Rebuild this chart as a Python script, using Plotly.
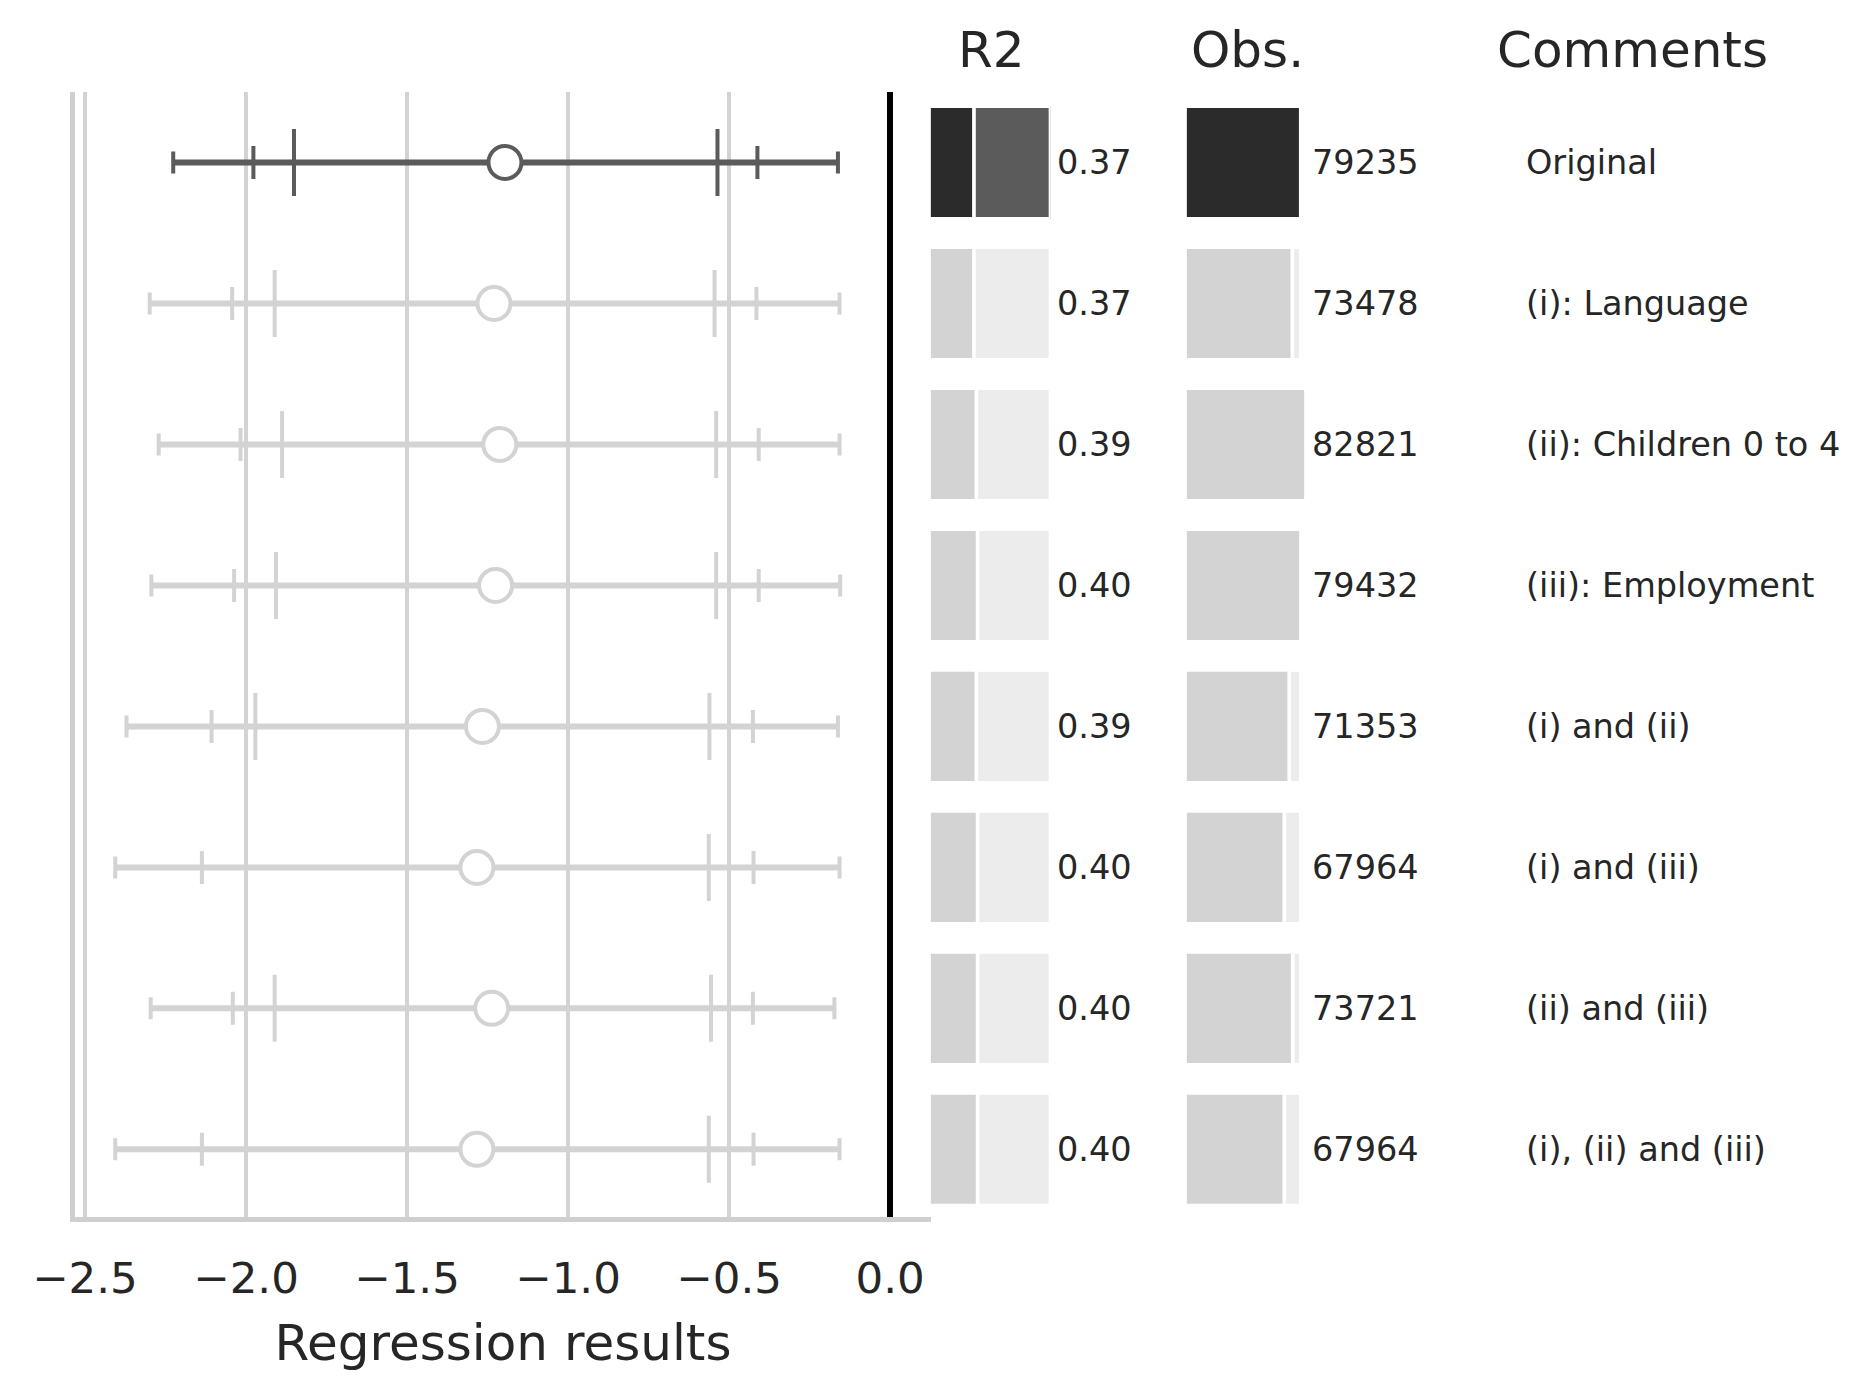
import plotly.graph_objects as go

# regression table: one row per specification
comments = ["Original", "(i): Language", "(ii): Children 0 to 4", "(iii): Employment",
            "(i) and (ii)", "(i) and (iii)", "(ii) and (iii)", "(i), (ii) and (iii)"]
coef = [-1.196, -1.230, -1.212, -1.225, -1.266, -1.283, -1.237, -1.283]
lo99 = [-2.226, -2.299, -2.271, -2.294, -2.371, -2.406, -2.296, -2.406]
hi99 = [-0.162, -0.157, -0.157, -0.155, -0.162, -0.157, -0.173, -0.157]
lo95 = [-1.977, -2.043, -2.017, -2.037, -2.107, -2.137, -2.041, -2.137]
hi95 = [-0.412, -0.415, -0.408, -0.408, -0.426, -0.424, -0.426, -0.424]
lo90 = [-1.851, -1.911, -1.888, -1.907, -1.971, -2.000, -1.911, -2.000]
hi90 = [-0.536, -0.545, -0.540, -0.540, -0.561, -0.563, -0.556, -0.563]
r2 = [0.37, 0.37, 0.39, 0.40, 0.39, 0.40, 0.40, 0.40]
obs = [79235, 73478, 82821, 79432, 71353, 67964, 73721, 67964]
x_ticks = [-2.5, -2.0, -1.5, -1.0, -0.5, 0.0]

W, H = 1869, 1397
TXT = "#262626"
FONT = "DejaVu Sans"
rows = list(range(len(comments)))

# first row highlighted in dark, the rest greyed out
line_col = ["#5b5b5b" if i == 0 else "#d3d3d3" for i in rows]
bar_col = ["#2b2b2b" if i == 0 else "#d3d3d3" for i in rows]
rest_col = ["#5b5b5b" if i == 0 else "#ececec" for i in rows]

fig = go.Figure()

# ---- coefficient plot ----
for i in rows:
    c = line_col[i]
    fig.add_trace(go.Scatter(x=[lo99[i], hi99[i]], y=[i, i], mode="lines",
                             line=dict(color=c, width=6), hoverinfo="skip"))
    for lo, hi, w in [(lo99, hi99, 11), (lo95, hi95, 16.5), (lo90, hi90, 33.5)]:
        fig.add_trace(go.Scatter(
            x=[coef[i]], y=[i], mode="markers",
            marker=dict(size=0.1, color="rgba(0,0,0,0)"),
            error_x=dict(type="data", symmetric=False,
                         array=[hi[i] - coef[i]], arrayminus=[coef[i] - lo[i]],
                         color=c, thickness=4, width=w),
            hoverinfo="skip"))
    fig.add_trace(go.Scatter(x=[coef[i]], y=[i], mode="markers",
                             marker=dict(size=33, color="white",
                                         line=dict(color=c, width=4))))

# ---- R2 bars (full scale behind, value in front) ----
bar_line = dict(color="white", width=3.7)
fig.add_trace(go.Bar(x=[1] * len(rows), y=rows, orientation="h", width=0.8,
                     marker=dict(color=rest_col, line=bar_line),
                     xaxis="x2", yaxis="y"))
fig.add_trace(go.Bar(x=r2, y=rows, orientation="h", width=0.8,
                     marker=dict(color=bar_col, line=bar_line),
                     xaxis="x2", yaxis="y"))

# ---- observations (original sample size behind) ----
fig.add_trace(go.Bar(x=[obs[0]] * len(rows), y=rows, orientation="h", width=0.8,
                     marker=dict(color="#ececec", line=bar_line),
                     xaxis="x3", yaxis="y"))
fig.add_trace(go.Bar(x=obs, y=rows, orientation="h", width=0.8,
                     marker=dict(color=bar_col, line=bar_line),
                     xaxis="x3", yaxis="y"))

annotations = []
for i in rows:
    annotations.append(dict(x=1, y=i, xref="x2", yref="y", text=f"{r2[i]:.2f}",
                            xanchor="left", yanchor="middle", xshift=4,
                            showarrow=False, font=dict(size=33.5, color=TXT, family=FONT)))
    annotations.append(dict(x=max(obs), y=i, xref="x3", yref="y", text=str(obs[i]),
                            xanchor="left", yanchor="middle", xshift=4,
                            showarrow=False, font=dict(size=33.5, color=TXT, family=FONT)))
    annotations.append(dict(x=1523.5 / W, y=i, xref="paper", yref="y", text=comments[i],
                            xanchor="left", yanchor="middle",
                            showarrow=False, font=dict(size=33.5, color=TXT, family=FONT)))

for txt, cx in [("R2", 991), ("Obs.", 1247), ("Comments", 1632)]:
    annotations.append(dict(x=cx / W, y=1 - 50 / H, xref="paper", yref="paper", text=txt,
                            xanchor="center", yanchor="middle", showarrow=False,
                            font=dict(size=50, color=TXT, family=FONT)))

fig.update_layout(
    width=W, height=H,
    margin=dict(l=0, r=0, t=0, b=0),
    paper_bgcolor="white", plot_bgcolor="white",
    showlegend=False, barmode="overlay",
    font=dict(family=FONT, color=TXT),
    annotations=annotations,
    xaxis=dict(domain=[75 / W, 931 / W], range=[-2.531, 0.127], automargin=False,
               tickvals=x_ticks, tickformat=".1f",
               showgrid=True, gridcolor="#d3d3d3", gridwidth=3.5,
               zeroline=True, zerolinecolor="black", zerolinewidth=6,
               showline=True, linecolor="#cfcfcf", linewidth=5,
               ticks="", tickfont=dict(size=43.5, color=TXT, family=FONT),
               ticklabelstandoff=19,
               title=dict(text="Regression results", standoff=24,
                          font=dict(size=50, color=TXT, family=FONT))),
    yaxis=dict(domain=[1 - 1217 / H, 1 - 92 / H], range=[7.48, -0.5], automargin=False,
               showgrid=False, zeroline=False, showticklabels=False,
               showline=True, linecolor="#cfcfcf", linewidth=5, ticks=""),
    xaxis2=dict(domain=[929 / W, 1050.5 / W], range=[0, 1], anchor="y",
                visible=False, showgrid=False, zeroline=False, automargin=False),
    xaxis3=dict(domain=[1185 / W, 1306 / W], range=[0, max(obs)], anchor="y",
                visible=False, showgrid=False, zeroline=False, automargin=False),
)

fig.write_html("out.html", config={"displayModeBar": False},
               post_script="document.body.style.margin='0';")
